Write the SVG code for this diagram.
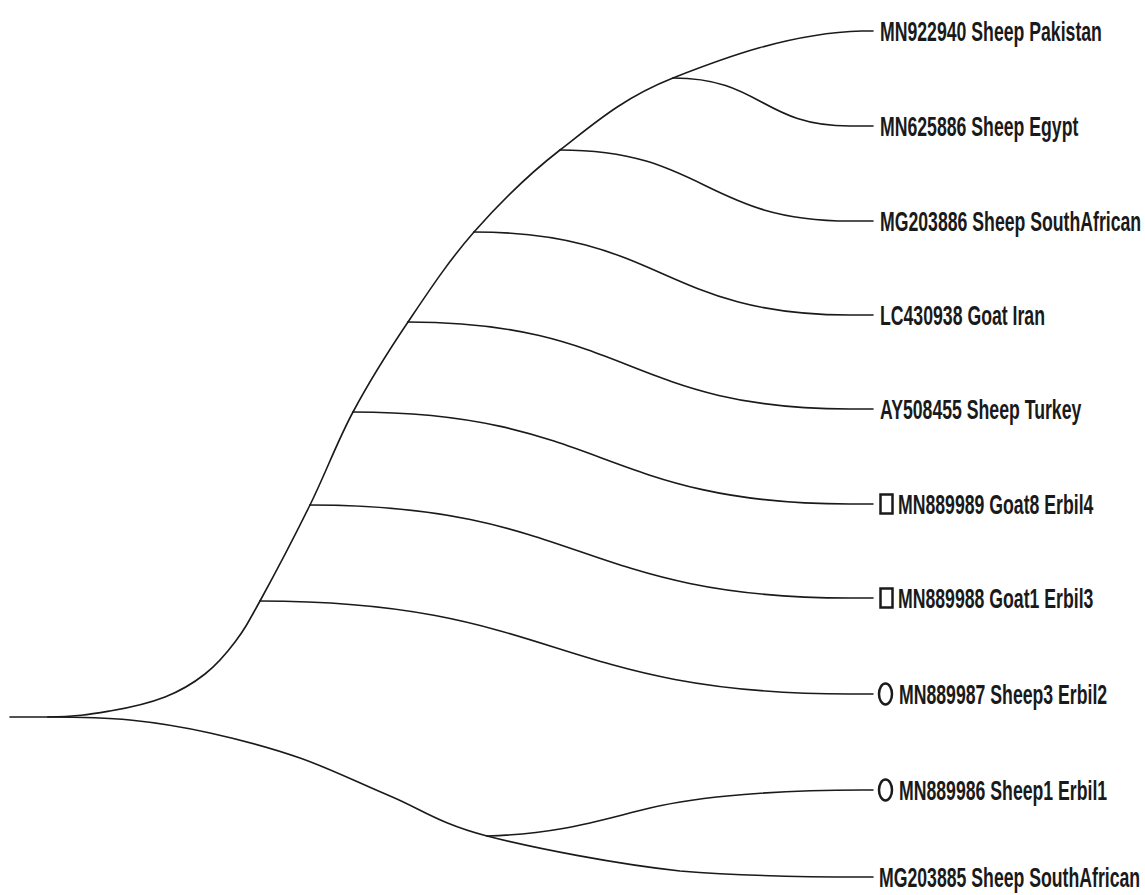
<svg xmlns="http://www.w3.org/2000/svg" width="1145" height="895" viewBox="0 0 1145 895">
<style>
.e{fill:none;stroke:#1a1a1a;stroke-width:1.6;stroke-linecap:round}
.t{font-family:"Liberation Sans",Arial,sans-serif;font-weight:bold;font-size:28px;fill:#1a1a1a}
.m{fill:none;stroke:#1a1a1a;stroke-width:2.5}
</style>
<rect width="1145" height="895" fill="#fff"/>
<g id="connectors">
<path class="e" d="M10,717 L48,717"/>
<path class="e" d="M48,717 C75,717 90.5,714.3 110,711 C129.5,707.7 149.2,703.2 165,697 C180.8,690.8 193.3,683.2 205,674 C216.7,664.8 225.8,654.2 235,642 C244.2,629.8 247.5,623.8 260,601"/>
<path class="e" d="M260,601 C272.5,578.2 294.5,536.5 310,505"/>
<path class="e" d="M310,505 C325.5,473.5 336.7,442.5 353,412"/>
<path class="e" d="M353,412 C369.3,381.5 387.8,352 408,322"/>
<path class="e" d="M408,322 C428.2,292 448.7,260.7 474,232"/>
<path class="e" d="M474,232 C499.3,203.3 526.8,175.7 560,150"/>
<path class="e" d="M560,150 C593.2,124.3 622.7,97.8 673,78"/>
<path class="e" d="M673,78 C723.3,58.2 790,33 862,31 L873,31"/>
<path class="e" d="M673,78 C761.5,78 761.5,126 850,126 L873,126"/>
<path class="e" d="M560,150 C705,150 705,221 850,221 L873,221"/>
<path class="e" d="M474,232 C662,232 662,315 850,315 L873,315"/>
<path class="e" d="M408,322 C629,322 629,409 850,409 L873,409"/>
<path class="e" d="M353,412 C601.5,412 601.5,504 850,504 L873,504"/>
<path class="e" d="M310,505 C580,505 580,598 850,598 L873,598"/>
<path class="e" d="M260,601 C555,601 555,694 850,694 L873,694"/>
<path class="e" d="M48,717 C75,717 103,717.3 130,720 C157,722.7 181.7,726.7 210,733 C238.3,739.3 270,747.5 300,758 C330,768.5 358.8,783 390,796 C421.2,809 438.7,823.5 487,836"/>
<path class="e" d="M487,836 C535.3,848.5 617.5,864.2 680,871 C742,876 810,877 862,877 L873,877"/>
<path class="e" d="M487,836 C560,834 600,820 650,808 C700,796 780,790 862,790 L873,790"/>
</g>
<g id="leaf-MN922940"><text class="t" transform="translate(880,41) scale(0.631,1)">MN922940 Sheep Pakistan</text></g>
<g id="leaf-MN625886"><text class="t" transform="translate(880,136) scale(0.631,1)">MN625886 Sheep Egypt</text></g>
<g id="leaf-MG203886"><text class="t" transform="translate(880,231) scale(0.631,1)">MG203886 Sheep SouthAfrican</text></g>
<g id="leaf-LC430938"><text class="t" transform="translate(880,325) scale(0.631,1)">LC430938 Goat Iran</text></g>
<g id="leaf-AY508455"><text class="t" transform="translate(880,419) scale(0.631,1)">AY508455 Sheep Turkey</text></g>
<g id="leaf-MN889989"><rect class="m" x="880.5" y="494.5" width="12" height="19"/><text class="t" transform="translate(898,514) scale(0.631,1)">MN889989 Goat8 Erbil4</text></g>
<g id="leaf-MN889988"><rect class="m" x="880.5" y="588.5" width="12" height="19"/><text class="t" transform="translate(898,608) scale(0.631,1)">MN889988 Goat1 Erbil3</text></g>
<g id="leaf-MN889987"><ellipse class="m" cx="885.5" cy="694" rx="6.5" ry="10.5"/><text class="t" transform="translate(899,704) scale(0.631,1)">MN889987 Sheep3 Erbil2</text></g>
<g id="leaf-MN889986"><ellipse class="m" cx="885.5" cy="790" rx="6.5" ry="10.5"/><text class="t" transform="translate(899,800) scale(0.631,1)">MN889986 Sheep1 Erbil1</text></g>
<g id="leaf-MG203885"><text class="t" transform="translate(879,887) scale(0.631,1)">MG203885 Sheep SouthAfrican</text></g>
</svg>
